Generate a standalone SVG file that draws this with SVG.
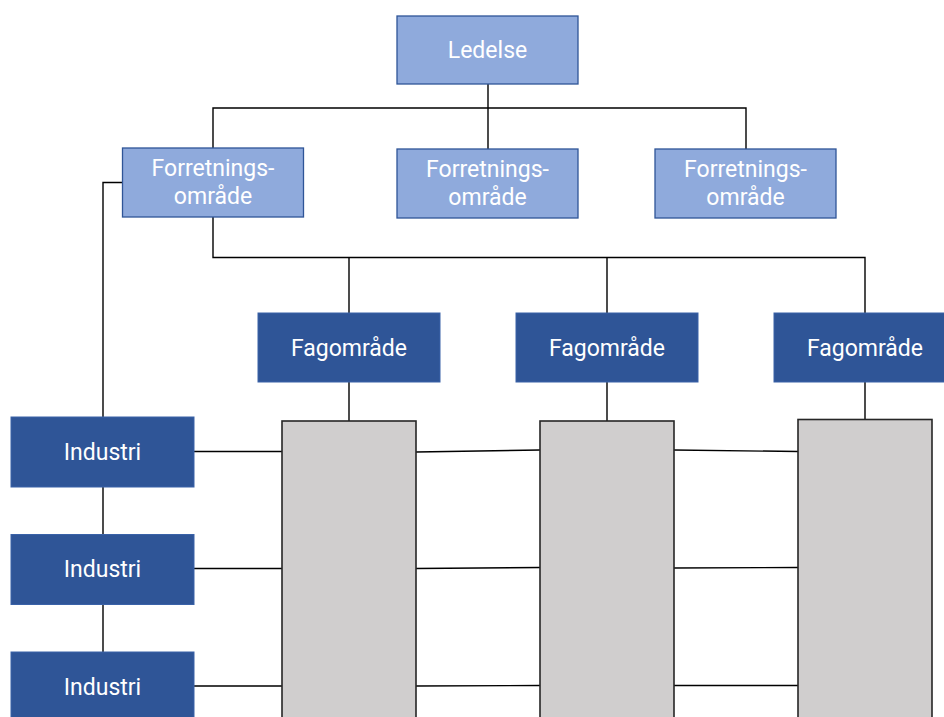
<svg xmlns="http://www.w3.org/2000/svg" width="944" height="717" viewBox="0 0 944 717">
  <style>
    .bg { fill: #ffffff; }
    .lead rect { fill: #8faadc; stroke: #2f5597; stroke-width: 1.3; }
    .fag rect { fill: #2f5597; stroke: #3a62a8; stroke-width: 1; }
    .col rect { fill: #d0cece; stroke: #262626; stroke-width: 1.6; }
    text { font-family: Roboto, "Liberation Sans", sans-serif; font-size: 23px; fill: #ffffff; text-anchor: middle; dominant-baseline: central; }
    .conn path { fill: none; stroke: #000000; stroke-width: 1.4; }
  </style>
  <rect class="bg" width="944" height="717"/>

  <!-- connectors -->
  <g id="connectors" class="conn">
    <path d="M488 84 V149 M213 148 V108 H746 V149"/>
    <path d="M122 182.5 H103 V417 M103 487 V534 M103 604 V652"/>
    <path d="M213 217 V257.5 H865 V313 M349 257.5 V313 M607 257.5 V313"/>
    <path d="M349 382 V421 M607 382 V421 M865 382 V419"/>
    <path d="M194 451.5 H282 M416 452 L540 450 M674 450 L798 451.5"/>
    <path d="M194 568.5 H282 M416 568.5 L540 567.5 M674 568 L798 567.5"/>
    <path d="M194 686 H282 M416 686 L540 685.5 M674 685.5 L798 685.5"/>
  </g>

  <!-- management -->
  <g id="ledelse" class="lead">
    <rect x="397" y="16" width="181" height="68"/>
    <text x="487.5" y="50">Ledelse</text>
  </g>

  <!-- business areas -->
  <g id="forretning-1" class="lead">
    <rect x="122.5" y="148" width="181" height="69"/>
    <text x="213" y="168.5">Forretnings-</text>
    <text x="213" y="196">område</text>
  </g>
  <g id="forretning-2" class="lead">
    <rect x="397" y="149" width="181" height="69"/>
    <text x="487.5" y="169.5">Forretnings-</text>
    <text x="487.5" y="197">område</text>
  </g>
  <g id="forretning-3" class="lead">
    <rect x="655" y="149" width="181" height="69"/>
    <text x="745.5" y="169.5">Forretnings-</text>
    <text x="745.5" y="197">område</text>
  </g>

  <!-- subject areas -->
  <g id="fag-1" class="fag">
    <rect x="258" y="313" width="182" height="69"/>
    <text x="349" y="348">Fagområde</text>
  </g>
  <g id="fag-2" class="fag">
    <rect x="516" y="313" width="182" height="69"/>
    <text x="607" y="348">Fagområde</text>
  </g>
  <g id="fag-3" class="fag">
    <rect x="774" y="313" width="182" height="69"/>
    <text x="865" y="348">Fagområde</text>
  </g>

  <!-- subject columns -->
  <g id="col-1" class="col"><rect x="282" y="421" width="134" height="310"/></g>
  <g id="col-2" class="col"><rect x="540" y="421" width="134" height="310"/></g>
  <g id="col-3" class="col"><rect x="798" y="419.5" width="134" height="310"/></g>

  <!-- industries -->
  <g id="industri-1" class="fag">
    <rect x="11" y="417" width="183" height="70"/>
    <text x="102.5" y="452">Industri</text>
  </g>
  <g id="industri-2" class="fag">
    <rect x="11" y="534.5" width="183" height="70"/>
    <text x="102.5" y="569.5">Industri</text>
  </g>
  <g id="industri-3" class="fag">
    <rect x="11" y="652" width="183" height="70"/>
    <text x="102.5" y="687">Industri</text>
  </g>
</svg>
